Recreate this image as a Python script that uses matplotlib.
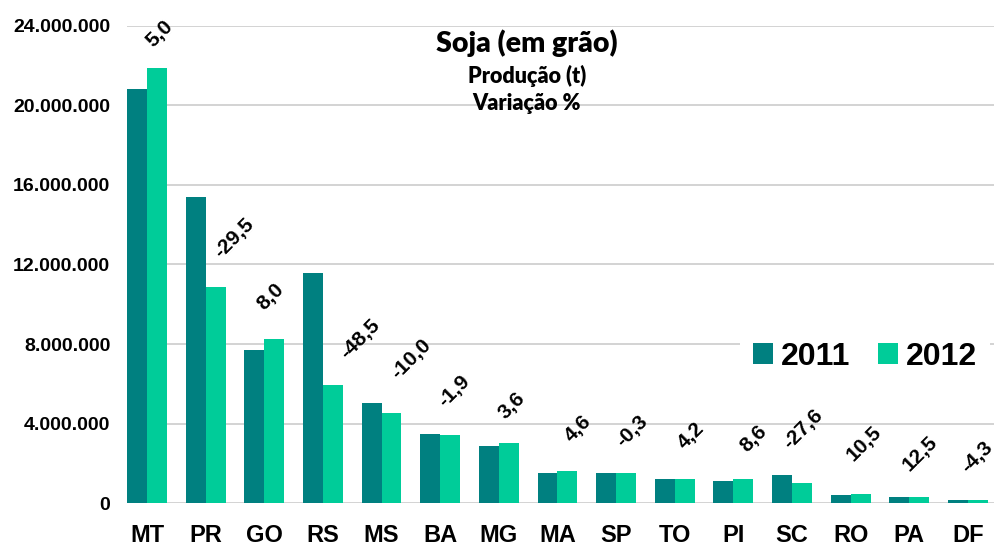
import matplotlib
matplotlib.use("Agg")
import matplotlib.pyplot as plt
from matplotlib.ticker import FuncFormatter
import numpy as np

# dados (t)
estados = ["MT", "PR", "GO", "RS", "MS", "BA", "MG", "MA", "SP", "TO", "PI", "SC", "RO", "PA", "DF"]
prod_2011 = [20800000, 15400000, 7700000, 11550000, 5050000, 3490000, 2900000, 1530000,
             1520000, 1210000, 1120000, 1420000, 420000, 300000, 180000]
prod_2012 = [21850000, 10850000, 8250000, 5960000, 4520000, 3430000, 3020000, 1600000,
             1510000, 1230000, 1210000, 1030000, 470000, 340000, 170000]
variacao = [5.0, -29.5, 8.0, -48.5, -10.0, -1.9, 3.6, 4.6, -0.3, 4.2, 8.6, -27.6, 10.5, 12.5, -4.3]
anos = ["2011", "2012"]

# deslocamento dos rotulos (px) em relacao ao topo da barra 2012
nudge = [(3, 18), (18, 26), (-4, 25), (27, 22), (20, 31), (4, 24), (3, 20), (10, 26),
         (6, 23), (6, 26), (10, 24), (1, 30), (3, 29), (1, 22), (-1, 23)]

c2011 = "#008080"
c2012 = "#00CC99"

plt.rcParams["font.family"] = ["Liberation Sans", "DejaVu Sans"]
plt.rcParams["font.weight"] = "bold"

fig = plt.figure(figsize=(9.95, 5.52), dpi=100)
ax = fig.add_axes([127 / 995, 1 - 503.3 / 552, 868 / 995, (503.3 - 25.5) / 552])

x = np.arange(len(estados))
w = 0.34
ax.bar(x - w / 2, prod_2011, w, color=c2011, label=anos[0])
ax.bar(x + w / 2, prod_2012, w, color=c2012, label=anos[1])

ax.set_xlim(-0.34, 14.46)
ax.set_ylim(0, 24000000)
ax.set_yticks(np.arange(0, 24000001, 4000000))
ax.yaxis.set_major_formatter(FuncFormatter(lambda v, p: f"{int(v):,}".replace(",", ".")))
ax.set_xticks(x)
ax.set_xticklabels(estados, fontsize=17, fontweight="bold")
ax.tick_params(axis="y", length=0, pad=12, labelsize=14)
ax.tick_params(axis="x", length=0, pad=15)
for s in ax.spines.values():
    s.set_visible(False)
ax.grid(axis="y", color="#C8C8C8", linewidth=1.1)
ax.set_axisbelow(True)

for i, v in enumerate(variacao):
    txt = f"{v:.1f}".replace(".", ",")
    dx, dy = nudge[i]
    ax.annotate(txt, (x[i] + w / 2, prod_2012[i]), xytext=(dx, dy), textcoords="offset pixels",
                rotation=45, ha="center", va="bottom", fontsize=15, fontweight="bold")

leg = ax.legend(loc="center", bbox_to_anchor=(865 / 995, 1 - 357 / 552),
                bbox_transform=fig.transFigure, ncol=2, fontsize=23,
                handlelength=0.63, handleheight=0.63, handletextpad=0.26,
                columnspacing=0.85, borderpad=0.4, frameon=True, fancybox=False,
                framealpha=1, facecolor="white", edgecolor="none")
leg.get_frame().set_linewidth(0)

tf = ["Lato", "DejaVu Sans"]
fig.text(527 / 995, 1 - 43 / 552, "Soja (em grão)", ha="center", va="center",
         fontsize=20.5, fontweight="heavy", family=tf)
fig.text(527 / 995, 1 - 76 / 552, "Produção (t)", ha="center", va="center",
         fontsize=15.5, fontweight="heavy", family=tf)
fig.text(527 / 995, 1 - 104 / 552, "Variação %", ha="center", va="center",
         fontsize=15.5, fontweight="heavy", family=tf)

fig.savefig("out.png", dpi=100)
